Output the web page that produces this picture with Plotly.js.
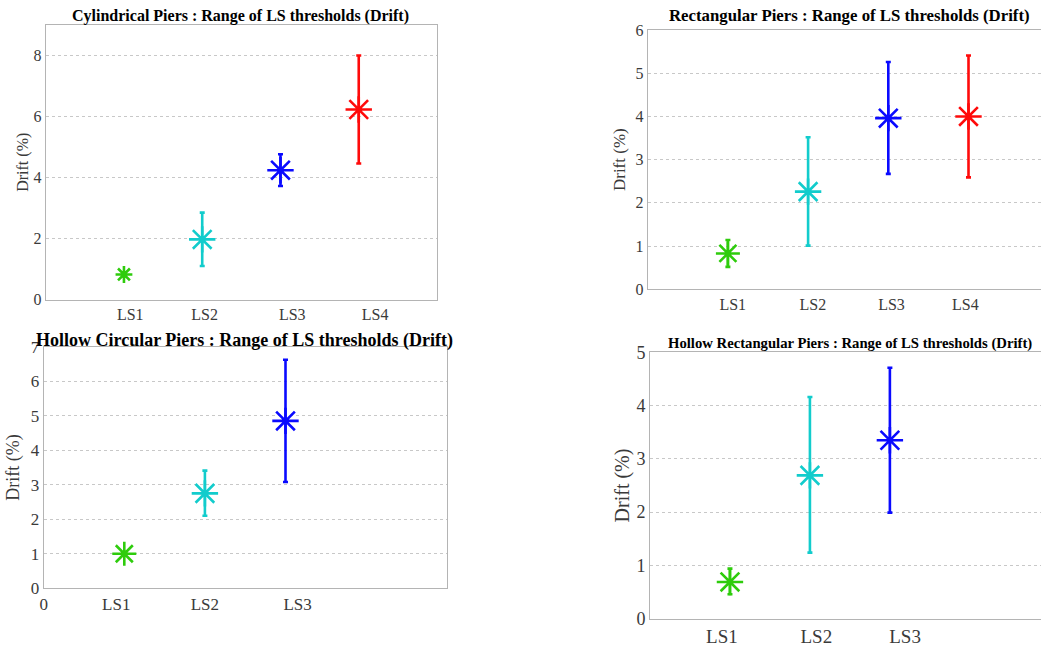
<!DOCTYPE html>
<html>
<head>
<meta charset="utf-8">
<script src="https://cdn.plot.ly/plotly-3.0.1.min.js"></script>
<style>html,body{margin:0;padding:0;background:#fff;}#chart{width:1041px;height:647px;}</style>
</head>
<body>
<div id="chart"></div>
<script>
// ---- data ----
const limitStates4 = ["LS1", "LS2", "LS3", "LS4"];
const limitStates3 = ["LS1", "LS2", "LS3"];
const stateColors = ["#2ecc0c", "#12cccc", "#0a0aff", "#ff0a0a"];

// Cylindrical piers
const cylCenter = [0.82, 1.97, 4.24, 6.23];
const cylLow    = [0.76, 1.10, 3.72, 4.46];
const cylHigh   = [0.88, 2.85, 4.76, 8.00];

// Rectangular piers
const recCenter = [0.83, 2.26, 3.96, 4.00];
const recLow    = [0.52, 1.01, 2.67, 2.59];
const recHigh   = [1.14, 3.52, 5.26, 5.41];

// Hollow circular piers
const hcCenter = [1.00, 2.75, 4.85];
const hcLow    = [0.96, 2.10, 3.08];
const hcHigh   = [1.04, 3.41, 6.62];

// Hollow rectangular piers
const hrCenter = [0.69, 2.69, 3.35];
const hrLow    = [0.46, 1.24, 1.99];
const hrHigh   = [0.94, 4.16, 4.71];

const panelTitles = [
  "Cylindrical Piers : Range of LS thresholds (Drift)",
  "Rectangular Piers : Range of LS thresholds (Drift)",
  "Hollow Circular Piers : Range of LS thresholds (Drift)",
  "Hollow Rectangular Piers : Range of LS thresholds (Drift)"
];
const yTitle = "Drift (%)";

// ---- build ----
const W = 1041, H = 647;
const serif = "'Liberation Serif', 'Times New Roman', serif";
const panels = [
  {cats: limitStates4, c: cylCenter, lo: cylLow, hi: cylHigh, ax: "", msize: [14, 22, 22, 22]},
  {cats: limitStates4, c: recCenter, lo: recLow, hi: recHigh, ax: "2", msize: [20, 22, 22, 22]},
  {cats: limitStates3, c: hcCenter, lo: hcLow, hi: hcHigh, ax: "3", msize: [20, 22, 22]},
  {cats: limitStates3, c: hrCenter, lo: hrLow, hi: hrHigh, ax: "4", msize: [22, 22, 22]}
];

const traces = [];
panels.forEach(p => {
  p.cats.forEach((cat, i) => {
    traces.push({
      type: "scatter", mode: "markers",
      x: [i + 1], y: [p.c[i]], name: cat,
      xaxis: "x" + p.ax, yaxis: "y" + p.ax,
      showlegend: false,
      marker: {symbol: "asterisk-open", size: p.msize[i], color: stateColors[i],
               line: {color: stateColors[i], width: 2.6}},
      error_y: {type: "data", symmetric: false,
                array: [p.hi[i] - p.c[i]], arrayminus: [p.c[i] - p.lo[i]],
                color: stateColors[i], thickness: 2.6, width: 2.5}
    });
  });
});

function dom(a, b, size) { return [a / size, b / size]; }
function ydom(top, bottom) { return [1 - bottom / H, 1 - top / H]; }

function xax(anchor, d, range, tickvals, ticktext, fs) {
  return {anchor: anchor, domain: d, range: range, showgrid: false, zeroline: false,
          showline: true, linecolor: "#b4b4b4", linewidth: 1, mirror: true,
          ticks: "", tickmode: "array", tickvals: tickvals, ticktext: ticktext,
          ticklabelstandoff: 0,
          tickfont: {family: serif, size: fs, color: "#3a3a3a"}, fixedrange: true};
}
function yax(anchor, d, range, dtick, fs, tfs, standoff, mirror) {
  return {anchor: anchor, domain: d, range: range, dtick: dtick, tick0: 0, tickmode: "linear",
          showgrid: true,
          gridcolor: "#c8c8c8", griddash: "dot", gridwidth: 1, zeroline: false,
          showline: true, linecolor: "#b4b4b4", linewidth: 1, mirror: mirror,
          ticks: "", ticklabelstandoff: 0,
          tickfont: {family: serif, size: fs, color: "#3a3a3a"},
          title: {text: yTitle, standoff: standoff, font: {family: serif, size: tfs, color: "#3a3a3a"}},
          fixedrange: true};
}

const layout = {
  width: W, height: H, margin: {l: 0, r: 0, t: 0, b: 0},
  paper_bgcolor: "#fff", plot_bgcolor: "#fff", showlegend: false,
  xaxis:  xax("y",  dom(45.7, 437, W), [0, 5], [1.08, 2.03, 3.15, 4.21], limitStates4, 16),
  yaxis:  yax("x",  ydom(25, 299.5), [0, 9], 2, 16, 16, 0, true),
  xaxis2: xax("y2", dom(647.7, 1041, W), [0, 4.904], [1.06, 2.06, 3.04, 3.96], limitStates4, 16),
  yaxis2: yax("x2", ydom(30, 289.3), [0, 6], 1, 16, 17, 5, false),
  xaxis3: xax("y3", dom(43.7, 446.7, W), [0, 5], [0, 0.9, 2.0, 3.15], ["0"].concat(limitStates3), 17),
  yaxis3: yax("x3", ydom(346.7, 588.3), [0, 7], 1, 17, 18, 6, true),
  xaxis4: xax("y4", dom(650, 1041, W), [0, 4.89], [0.9, 2.08, 3.19], limitStates3, 19),
  yaxis4: yax("x4", ydom(352.3, 618.7), [0, 5], 1, 18, 20, 1, false),
  annotations: [
    {text: "<b>" + panelTitles[0] + "</b>", x: 240 / W, y: 1 - 16 / H, size: 16},
    {text: "<b>" + panelTitles[1] + "</b>", x: 849 / W, y: 1 - 15.7 / H, size: 16.8},
    {text: "<b>" + panelTitles[2] + "</b>", x: 244 / W, y: 1 - 340 / H, size: 18},
    {text: "<b>" + panelTitles[3] + "</b>", x: 850 / W, y: 1 - 343.3 / H, size: 14.7}
  ].map(a => ({text: a.text, x: a.x, y: a.y, xref: "paper", yref: "paper",
               xanchor: "center", yanchor: "middle", showarrow: false,
               font: {family: serif, size: a.size, color: "#000"}}))
};

Plotly.newPlot("chart", traces, layout, {staticPlot: true, displayModeBar: false});
</script>
</body>
</html>
